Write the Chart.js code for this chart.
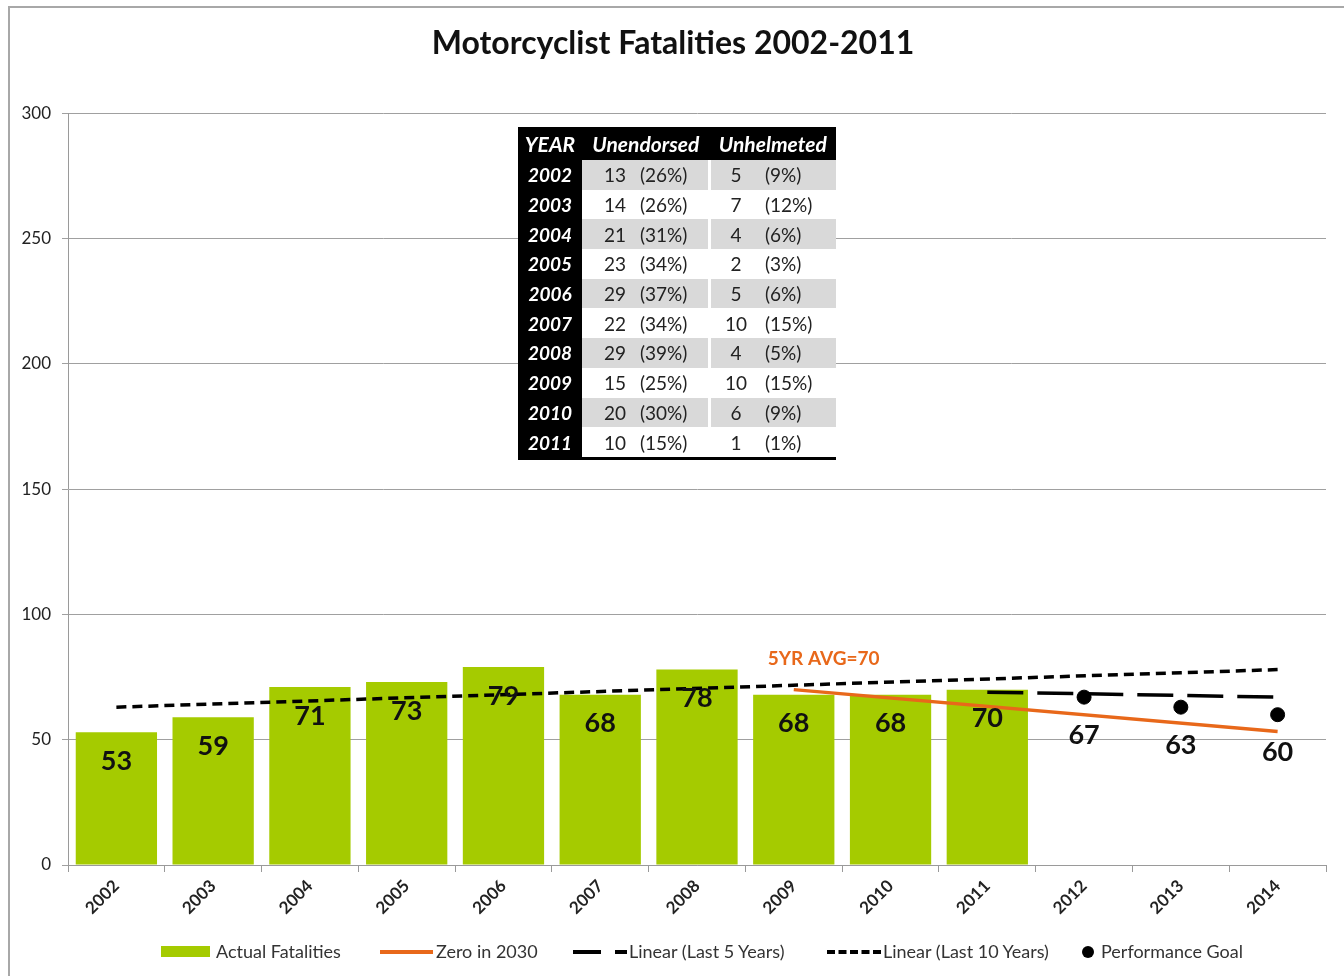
<!DOCTYPE html>
<html>
<head>
<meta charset="utf-8">
<script src="https://cdn.jsdelivr.net/npm/chart.js@4.4.1/dist/chart.umd.min.js"></script>
<style>
  html, body { margin: 0; padding: 0; background: #fff; }
  body { width: 1344px; height: 976px; position: relative; overflow: hidden; font-family: Lato, "Open Sans", sans-serif; }
  #frame { position: absolute; left: 8px; top: 6px; width: 1340px; height: 990px; border: 2px solid #a8a8a8; box-sizing: border-box; }
  #chart { position: absolute; left: 0; top: 0; }
  #tbl { position: absolute; left: 518px; top: 127px; border-collapse: collapse; font-size: 19px; color: #222; }
  #tbl td, #tbl th { padding: 0; height: 29.7px; line-height: 29px; white-space: nowrap; }
  #tbl th { background: #000; color: #fff; font-style: italic; font-weight: bold; height: 33px; font-size: 21px; text-align: center; }
  #tbl td.yr { background: #000; color: #fff; font-style: italic; font-weight: bold; text-align: center; width: 64px; }
  #tbl td.n1 { width: 44px; text-align: right; padding-right: 9px; }
  #tbl td.p1 { width: 68px; text-align: left; padding-left: 5px; border-right: 3px solid #fff; }
  #tbl td.n2 { width: 50px; text-align: center; }
  #tbl td.p2 { width: 71px; text-align: left; padding-left: 4px; }
  #tbl tr.g td:not(.yr) { background: #d9d9d9; }
  #tbl tr:last-child td { border-bottom: 3px solid #000; }
  #legend { position: absolute; top: 940px; left: 0; width: 1344px; height: 22px; font-size: 18px; color: #333; }
  #legend span { position: absolute; top: 0; line-height: 22px; }
  .sw { position: absolute; }
</style>
</head>
<body>
<div id="frame"></div>
<canvas id="chart" width="1344" height="976"></canvas>
<table id="tbl"></table>
<div id="legend"></div>
<script>
// ------------------------------------------------------------------
// Data
// ------------------------------------------------------------------
const years       = ['2002', '2003', '2004', '2005', '2006', '2007', '2008', '2009', '2010', '2011', '2012', '2013', '2014'];
const actual      = [53, 59, 71, 73, 79, 68, 78, 68, 68, 70, null, null, null];
const zeroIn2030  = [null, null, null, null, null, null, null, 70, null, null, null, null, 53.3];
const linear5     = [null, null, null, null, null, null, null, null, null, 69, null, null, 67];
const linear10    = [63, null, null, null, null, null, null, null, null, null, null, null, 78];
const goal        = [null, null, null, null, null, null, null, null, null, null, 67, 63, 60];
const yTicks      = [0, 50, 100, 150, 200, 250, 300];

// table inset
const tableYears  = ['2002', '2003', '2004', '2005', '2006', '2007', '2008', '2009', '2010', '2011'];
const unendorsed  = [13, 14, 21, 23, 29, 22, 29, 15, 20, 10];
const unendPct    = [26, 26, 31, 34, 37, 34, 39, 25, 30, 15];
const unhelmeted  = [5, 7, 4, 2, 5, 10, 4, 10, 6, 1];
const unhelmPct   = [9, 12, 6, 3, 6, 15, 5, 15, 9, 1];

const GREEN  = '#a5cb00';
const ORANGE = '#e8681a';
const FONT   = 'Lato, "Open Sans", sans-serif';

// ------------------------------------------------------------------
// Table
// ------------------------------------------------------------------
const tbl = document.getElementById('tbl');
let html = '<tr><th>YEAR</th><th colspan="2">Unendorsed</th><th colspan="2">Unhelmeted</th></tr>';
tableYears.forEach((y, i) => {
  html += '<tr class="' + (i % 2 === 0 ? 'g' : '') + '">' +
    '<td class="yr">' + y + '</td>' +
    '<td class="n1">' + unendorsed[i] + '</td><td class="p1">(' + unendPct[i] + '%)</td>' +
    '<td class="n2">' + unhelmeted[i] + '</td><td class="p2">(' + unhelmPct[i] + '%)</td></tr>';
});
tbl.innerHTML = html;

// ------------------------------------------------------------------
// Legend (HTML)
// ------------------------------------------------------------------
const legend = document.getElementById('legend');
legend.innerHTML =
  '<div class="sw" style="left:161px;top:6px;width:49px;height:11px;background:' + GREEN + '"></div>' +
  '<span style="left:216px">Actual Fatalities</span>' +
  '<div class="sw" style="left:380px;top:10px;width:53px;height:0;border-top:4px solid ' + ORANGE + '"></div>' +
  '<span style="left:436px">Zero in 2030</span>' +
  '<div class="sw" style="left:573px;top:10px;width:28px;height:0;border-top:4px solid #000"></div>' +
  '<div class="sw" style="left:615px;top:10px;width:12px;height:0;border-top:4px solid #000"></div>' +
  '<span style="left:629px">Linear (Last 5 Years)</span>' +
  '<div class="sw" style="left:827px;top:10px;width:54px;height:0;border-top:4px dashed #000"></div>' +
  '<span style="left:883px">Linear (Last 10 Years)</span>' +
  '<div class="sw" style="left:1082px;top:6px;width:12px;height:12px;border-radius:6px;background:#000"></div>' +
  '<span style="left:1101px">Performance Goal</span>';

// ------------------------------------------------------------------
// Labels plugin: bar values, goal values, 5 year average note
// ------------------------------------------------------------------
const labelPlugin = {
  id: 'labels',
  afterDatasetsDraw(chart) {
    const ctx = chart.ctx;
    ctx.save();
    ctx.fillStyle = '#111';
    ctx.textAlign = 'center';
    ctx.textBaseline = 'middle';
    ctx.font = 'bold 27px ' + FONT;

    chart.getDatasetMeta(0).data.forEach((bar, i) => {
      if (actual[i] == null) return;
      ctx.fillText(String(actual[i]), bar.x, bar.y + 29);
    });
    chart.getDatasetMeta(4).data.forEach((pt, i) => {
      if (goal[i] == null) return;
      ctx.fillText(String(goal[i]), pt.x, pt.y + 38);
    });

    const start = chart.getDatasetMeta(1).data[7];
    ctx.fillStyle = ORANGE;
    ctx.textAlign = 'left';
    ctx.font = 'bold 19px ' + FONT;
    ctx.fillText('5YR AVG=70', start.x - 26, start.y - 31);
    ctx.restore();
  },
};

new Chart(document.getElementById('chart'), {
  type: 'bar',
  data: {
    labels: years,
    datasets: [
      { type: 'bar', label: 'Actual Fatalities', data: actual, backgroundColor: GREEN,
        categoryPercentage: 1, barPercentage: 0.84, order: 5 },
      { type: 'line', label: 'Zero in 2030', data: zeroIn2030, borderColor: ORANGE, borderWidth: 3.5,
        pointRadius: 0, spanGaps: true, order: 1 },
      { type: 'line', label: 'Linear (Last 5 Years)', data: linear5, borderColor: '#000', borderWidth: 3.5,
        borderDash: [36, 14], pointRadius: 0, spanGaps: true, order: 2 },
      { type: 'line', label: 'Linear (Last 10 Years)', data: linear10, borderColor: '#000', borderWidth: 3.5,
        borderDash: [10, 6], pointRadius: 0, spanGaps: true, order: 3 },
      { type: 'line', label: 'Performance Goal', data: goal, showLine: false, borderColor: '#000',
        backgroundColor: '#000', pointRadius: 7, pointHoverRadius: 7, order: 0 },
    ],
  },
  options: {
    responsive: false,
    animation: false,
    events: [],
    layout: { padding: { left: 20, right: 18, top: 0, bottom: 0 } },
    plugins: {
      legend: { display: false },
      tooltip: { enabled: false },
      title: {
        display: true,
        text: 'Motorcyclist Fatalities 2002-2011',
        color: '#111',
        font: { family: FONT, size: 32, weight: 'bold', lineHeight: 1.2 },
        padding: { top: 24, bottom: 51 },
      },
    },
    scales: {
      x: {
        grid: { display: true, drawOnChartArea: false, drawTicks: true, tickLength: 7, color: '#9a9a9a', offset: true },
        border: { color: '#9a9a9a', width: 1 },
        ticks: { color: '#222', minRotation: 45, maxRotation: 45, padding: 4,
                 font: { family: FONT, size: 17, weight: 'bold' } },
        afterFit(scale) { scale.height = 111; },
      },
      y: {
        min: 0, max: 300,
        afterBuildTicks(scale) { scale.ticks = yTicks.map(v => ({ value: v })); },
        grid: { color: '#a0a0a0', tickLength: 6 },
        border: { color: '#9a9a9a' },
        ticks: { color: '#222', padding: 11, font: { family: FONT, size: 17 } },
        afterFit(scale) { scale.width = 48; },
      },
    },
  },
  plugins: [labelPlugin],
});
</script>
</body>
</html>
